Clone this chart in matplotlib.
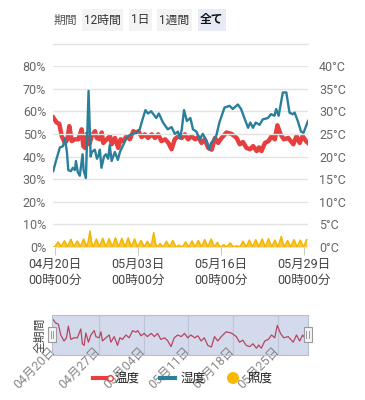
import numpy as np
import matplotlib
matplotlib.use("Agg")
import matplotlib.pyplot as plt
from matplotlib.patches import Rectangle, Circle

plt.rcParams['font.family'] = ['Roboto', 'Noto Sans CJK JP', 'DejaVu Sans']

# humidity (%) : days since 04/20 00:00
hum_days = [-0.27, 0.16, 0.78, 1.25, 1.57, 1.88, 2.1, 2.5, 2.8, 3.13, 3.3, 3.6, 3.9, 4.34, 4.5,
            4.86, 5.28, 5.6, 5.8, 6.26, 6.6, 6.9, 7.05, 7.3, 7.7, 8.0, 8.35, 8.6, 8.9, 9.4,
            9.87, 10.2, 10.7, 11.2, 11.75, 12.2, 12.8, 13.3, 13.7, 14.2, 14.6, 15.1, 15.5,
            15.9, 16.3, 16.96, 17.7, 18.3, 18.8, 19.3, 19.6, 19.9, 20.25, 20.7, 21.25, 21.66,
            22.2, 22.7, 23.2, 23.8, 24.2, 24.5, 25.3, 25.8, 26.6, 27.4, 27.9, 28.7, 29.2,
            29.8, 30.3, 30.65, 31.06, 31.5, 32.1, 32.6, 33.4, 33.9, 34.45, 34.7, 35.1,
            35.75, 36.3, 36.8, 37.3, 37.6, 38.1, 38.6, 39.0, 39.7]
hum_vals = [33.5, 38, 44, 44.5, 48, 42, 34, 33.5, 35, 34, 38, 33, 31.5, 41, 34,
            30.5, 69, 40, 42, 43, 39, 41, 43, 35, 40, 41, 39, 45, 38, 42,
            38.5, 42, 45, 48, 49.5, 50, 50.5, 52, 56, 60.5, 59, 60, 58.5,
            57, 59, 55, 52, 53, 50, 51, 48, 52, 60.5, 55.7, 57, 52,
            51, 47.5, 50, 46.8, 43, 46, 49, 55, 61.6, 62.4, 61, 63, 61,
            56.4, 52.7, 55, 52.7, 55, 54, 56.4, 57, 58.7, 58, 61, 58,
            68.3, 68.3, 59.4, 58.7, 59.4, 55.7, 51, 50.5, 55.7]

# temperature (°C)
temp_days = [-0.25, 0.28, 0.69, 1.07, 1.58, 1.95, 2.26, 2.64, 3.15, 3.67, 4.2, 4.45, 4.72, 4.99,
             5.4, 5.77, 6.29, 6.56, 7.07, 7.34, 7.59, 8.12, 8.64, 8.9, 9.42, 9.94, 10.3, 10.7,
             11.25, 11.76, 12.3, 12.8, 13.1, 13.6, 14.1, 14.6, 15.2, 15.7, 16.2, 16.7, 17.3,
             17.8, 18.3, 18.8, 19.35, 19.9, 20.4, 20.9, 21.4, 22.0, 22.5, 23.0, 23.5, 24.05,
             24.6, 25.1, 25.6, 26.1, 26.9, 27.7, 28.5, 29.0, 29.5, 30.05, 30.6, 31.1, 31.65,
             32.0, 32.4, 32.95, 33.5, 34.0, 34.5, 34.9, 35.4, 35.9, 36.6, 37.4, 37.9, 38.4,
             38.85, 39.4, 39.7]
temp_vals = [28.6, 27.5, 27.2, 24.5, 23.0, 23.8, 26.7, 23.4, 23.8, 23.8, 26.0, 22.3, 21.9, 25.0,
             22.7, 24.5, 25.6, 24.1, 23.8, 25.3, 23.0, 23.8, 24.5, 22.7, 24.1, 21.9, 23.8, 23.4,
             24.5, 23.8, 25.6, 25.2, 25.6, 24.3, 24.9, 24.1, 24.9, 24.1, 24.9, 23.4, 23.8,
             23.0, 21.6, 23.8, 24.5, 24.1, 24.9, 23.8, 24.5, 23.8, 24.3, 23.0, 23.8, 21.9,
             21.5, 24.1, 23.0, 24.0, 25.3, 25.0, 24.1, 22.7, 23.2, 21.9, 21.6, 22.3, 21.2,
             22.0, 21.2, 23.0, 23.4, 24.5, 23.8, 26.9, 24.9, 23.8, 24.1, 22.7, 24.5, 23.0,
             24.5, 23.4, 23.0]

# illuminance (drawn in % of left axis), every 6 hours from 04/19 18:00
illum_vals = [0,
              0, 1.2, 2.2, 1.2,  0, 1.5, 2.7, 1.4,  0, 1.8, 3.4, 1.6,  0, 1.4, 2.6, 1.5,
              0, 1.8, 3.5, 1.8,  0, 2.5, 7.0, 2.0,  0, 1.8, 3.5, 1.8,  0, 1.9, 3.8, 1.9,
              0, 1.8, 3.6, 1.8,  0, 2.0, 4.0, 2.0,  0, 1.9, 3.8, 1.9,  0, 2.0, 4.0, 1.9,
              0, 1.8, 3.5, 1.6,  0, 1.5, 2.8, 1.5,  0, 1.3, 2.5, 1.3,  0, 2.5, 6.3, 1.8,
              0, 0.6, 1.5, 0.6,  0, 1.3, 2.5, 1.3,  0, 1.4, 2.8, 1.2,  0, 0.4, 0.8, 0.3,
              0, 1.1, 2.2, 1.1,  0, 1.3, 2.6, 1.3,  0, 1.4, 2.8, 1.4,  0, 1.6, 3.2, 1.6,
              0, 1.8, 3.5, 1.7,  0, 1.0, 2.0, 0.6,  0, 0.4, 1.0, 0.4,  0, 0.9, 1.8, 0.8,
              0, 0.3, 0.5, 0.3,  0, 1.3, 2.5, 1.3,  0, 1.5, 3.0, 1.5,  0, 1.6, 3.2, 1.6,
              0, 1.8, 3.5, 1.7,  0, 1.8, 3.6, 1.8,  0, 1.5, 3.0, 1.5,  0, 2.2, 4.6, 2.0,
              0, 1.4, 2.8, 1.4,  0, 1.6, 3.2, 1.6,  0, 1.5, 3.0, 1.5,  0, 1.6, 3.2]
illum_days = np.arange(len(illum_vals)) * 0.25 - 0.25

tick_days = [0, 13, 26, 39]
tick_labels = ['04月20日\n00時00分', '05月03日\n00時00分', '05月16日\n00時00分', '05月29日\n00時00分']
hum_ticks = [0, 10, 20, 30, 40, 50, 60, 70, 80]
temp_ticks = [0, 5, 10, 15, 20, 25, 30, 35, 40]
week_days = [0, 7, 14, 21, 28, 35]
week_labels = ['04月20日', '04月27日', '05月04日', '05月11日', '05月18日', '05月25日']
buttons = ['12時間', '1日', '1週間', '全て']

RED = '#e5403f'
TEAL = '#2a7f9b'
YEL = '#f7bf1e'

W, H = 365, 400
fig = plt.figure(figsize=(W / 100, H / 100), dpi=100)

def box(l, t, r, b):
    return [l / W, 1 - b / H, (r - l) / W, (b - t) / H]

ax = fig.add_axes(box(53, 66, 308, 247))
ax2 = ax.twinx()
ax.set_zorder(ax2.get_zorder() + 1)
ax.patch.set_visible(False)

ax.set_ylim(0, 80)
ax2.set_ylim(0, 40)
ax.set_xlim(-0.3, 39.7)
ax.set_yticks(hum_ticks)
ax.set_yticklabels([f'{v}%' for v in hum_ticks])
ax2.set_yticks(temp_ticks)
ax2.set_yticklabels([f'{v}°C' for v in temp_ticks])
ax.grid(axis='y', color='#e3e3e3', lw=1)
ax.set_axisbelow(True)
for a in (ax, ax2):
    for s in a.spines.values():
        s.set_visible(False)
ax.tick_params(axis='y', length=0, pad=5, labelsize=9, labelcolor='#666666')
ax2.tick_params(axis='y', length=0, pad=8, labelsize=9, labelcolor='#666666')
ax.set_xticks(tick_days)
ax.set_xticklabels(tick_labels, fontsize=9, color='#444444', linespacing=1.25)
ax.tick_params(axis='x', length=6, color='#cccccc', pad=2)

ax2.plot(temp_days, temp_vals, color=RED, lw=3.2, solid_joinstyle='round')
ax.plot(hum_days, hum_vals, color=TEAL, lw=1.7)
ax.fill_between(illum_days, 0, illum_vals, color=YEL, alpha=0.85, lw=0)
ax.plot(illum_days, illum_vals, color='#f2b705', lw=1.2)

# range slider
sl = fig.add_axes(box(52, 315, 308, 355))
sl.set_xlim(-0.3, 39.7)
sl.set_ylim(19.5, 29.5)
sl.set_facecolor('#d3daec')
for s in sl.spines.values():
    s.set_color('#b9bfcc')
    s.set_linewidth(0.8)
for d in week_days[1:]:
    sl.axvline(d, color='#bcc4d8', lw=0.8)
sl.plot(temp_days, temp_vals, color='#b84561', lw=0.9)
sl.set_yticks([])
sl.set_xticks(week_days)
sl.set_xticklabels(week_labels, rotation=45, ha='right', va='center',
                   fontsize=9, color='#888888', rotation_mode='anchor')
sl.tick_params(axis='x', length=0, pad=-4)

# overlay in pixel coordinates
ov = fig.add_axes([0, 0, 1, 1], zorder=5)
ov.set_xlim(0, W)
ov.set_ylim(H, 0)
ov.axis('off')

ov.text(54, 20, '期間', fontsize=8.5, color='#555555', va='center', ha='left')
bx = [(82, 123), (129, 152), (157, 192), (198, 226)]
for (l, r), lab in zip(bx, buttons):
    last = lab == '全て'
    ov.add_patch(Rectangle((l, 9), r - l, 22, facecolor='#e6ebf5' if last else '#f3f3f3',
                           edgecolor='none'))
    ov.text((l + r) / 2, 20, lab, fontsize=8.5, ha='center', va='center',
            color='#111111' if last else '#333333', fontweight='bold' if last else 'normal')
ov.plot([53, 308], [44, 44], color='#e3e3e3', lw=1)

# slider handles and label
for x in (52, 307.5):
    ov.add_patch(Rectangle((x - 4, 327), 8, 15, facecolor='#f4f4f4', edgecolor='#9a9a9a', lw=0.8))
    ov.plot([x - 1.3, x - 1.3], [331, 338], color='#999999', lw=0.7)
    ov.plot([x + 1.3, x + 1.3], [331, 338], color='#999999', lw=0.7)
ov.text(40, 335, '全期間', rotation=90, fontsize=8.5, color='#444444', ha='center', va='center')

# legend
ov.plot([93, 108], [378, 378], color=RED, lw=3)
ov.plot([110], [378], marker='o', ms=4, mfc='white', mec=RED, mew=1)
ov.text(115, 378, '温度', fontsize=9, color='#222222', va='center')
ov.plot([160, 175], [378, 378], color=TEAL, lw=3)
ov.text(181, 378, '湿度', fontsize=9, color='#222222', va='center')
ov.add_patch(Circle((233, 378), 6, facecolor='#f9b800', edgecolor='none'))
ov.text(247, 378, '照度', fontsize=9, color='#222222', va='center')

fig.savefig('out.png', dpi=100, facecolor='white')
